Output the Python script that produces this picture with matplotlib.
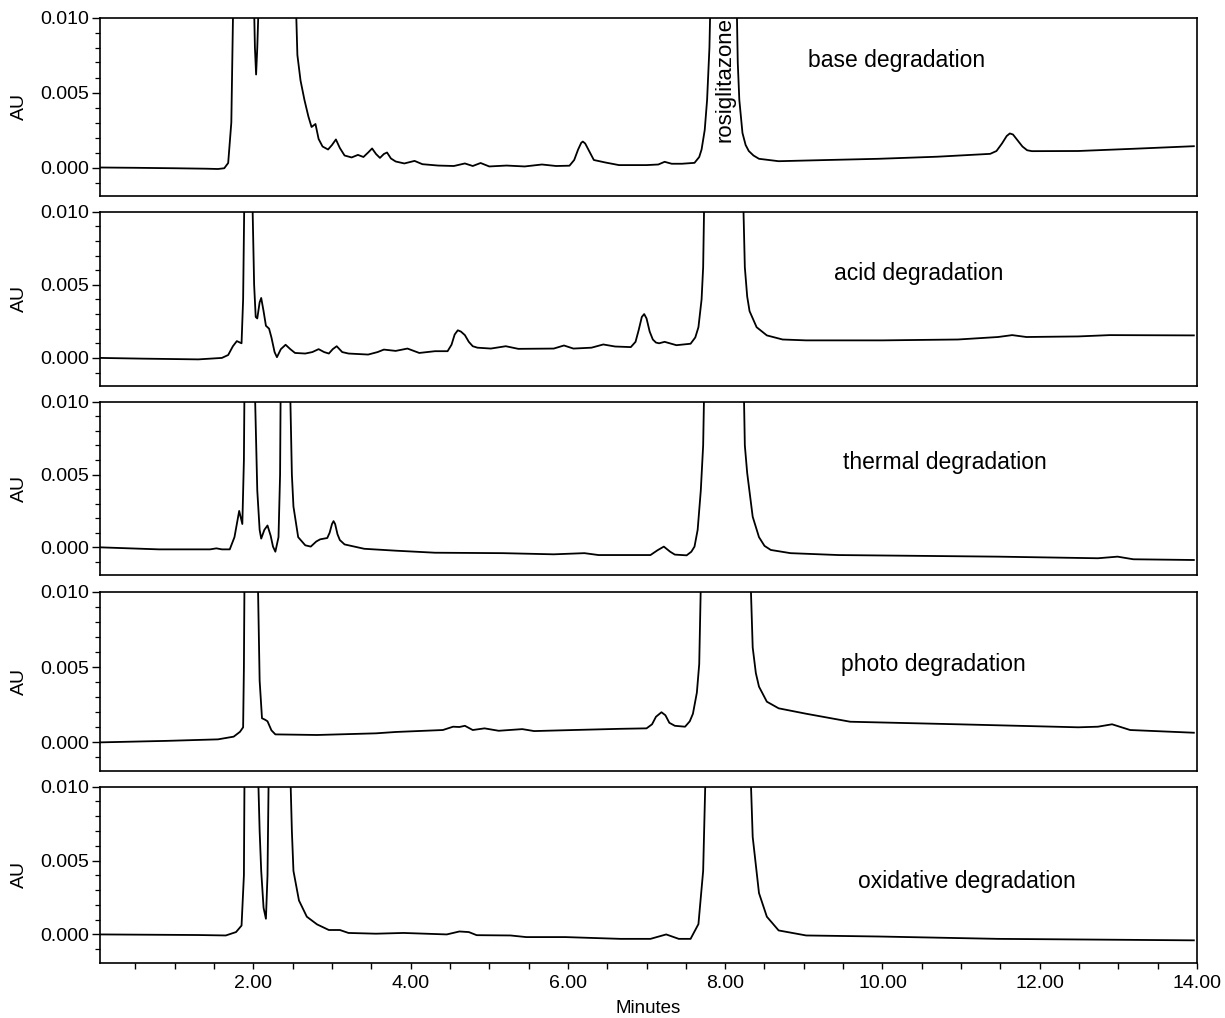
import matplotlib
matplotlib.use("Agg")
import matplotlib.pyplot as plt
from matplotlib.ticker import MultipleLocator, FormatStrFormatter

plt.rcParams['font.family'] = ['Liberation Sans', 'DejaVu Sans']

OFF = 0.013  # off-scale (peak exceeds the plotted range)

# ---------------- data (time in minutes, response in AU) ----------------
base_t = [0.05, 0.5, 1.0, 1.4, 1.55, 1.63, 1.68, 1.72, 1.75, 2.00, 2.02, 2.035, 2.05, 2.08,
          2.53, 2.56, 2.60, 2.65, 2.70, 2.74, 2.79, 2.83, 2.88, 2.95, 3.00, 3.05, 3.10, 3.16,
          3.25, 3.33, 3.40, 3.46, 3.51, 3.56, 3.61, 3.66, 3.70, 3.75, 3.81, 3.92, 4.05, 4.15,
          4.35, 4.55, 4.69, 4.79, 4.89, 5.00, 5.22, 5.45, 5.67, 5.85, 6.02, 6.08, 6.13, 6.17,
          6.19, 6.22, 6.27, 6.33, 6.48, 6.65, 7.0, 7.15, 7.23, 7.32, 7.45, 7.61, 7.67, 7.70,
          7.74, 7.77, 7.80, 7.82, 8.14, 8.16, 8.18, 8.22, 8.26, 8.30, 8.36, 8.43, 8.68, 9.30,
          9.95, 10.7, 11.37, 11.45, 11.52, 11.58, 11.62, 11.66, 11.72, 11.78, 11.84, 11.90,
          12.49, 13.2, 13.96]
base_au = [0.0, -0.00002, -0.00005, -0.00008, -0.0001, -0.00005, 0.0003, 0.003, OFF, OFF, 0.008, 0.0062, 0.008, OFF,
           OFF, 0.0075, 0.0058, 0.0045, 0.0034, 0.0027, 0.0029, 0.0019, 0.0014, 0.0012, 0.0015, 0.00187, 0.0013, 0.0008,
           0.00067, 0.00084, 0.0007, 0.001, 0.00127, 0.0009, 0.00064, 0.0009, 0.001, 0.0006, 0.0004, 0.00027, 0.00044, 0.00022,
           0.00013, 0.0001, 0.00027, 0.0001, 0.0003, 0.00007, 0.00013, 0.00007, 0.0002, 0.0001, 0.00012, 0.0005, 0.0012, 0.00165,
           0.00173, 0.0016, 0.0011, 0.0005, 0.00033, 0.00016, 0.00016, 0.0002, 0.00038, 0.00025, 0.00025, 0.00031, 0.0007, 0.0012,
           0.0025, 0.0045, 0.008, OFF, OFF, 0.007, 0.0045, 0.0023, 0.0015, 0.0011, 0.0008, 0.00058, 0.00042, 0.0005,
           0.00058, 0.00072, 0.00091, 0.0011, 0.0016, 0.0021, 0.00227, 0.0022, 0.0018, 0.0014, 0.00115, 0.00109,
           0.0011, 0.00125, 0.00142]

acid_t = [0.05, 0.6, 1.30, 1.60, 1.68, 1.74, 1.79, 1.85, 1.87, 1.89, 1.98, 2.01, 2.03, 2.05, 2.08,
          2.10, 2.13, 2.16, 2.20, 2.23, 2.27, 2.30, 2.35, 2.41, 2.47, 2.53, 2.66, 2.75, 2.83, 2.90,
          2.96, 3.01, 3.06, 3.13, 3.21, 3.46, 3.58, 3.66, 3.81, 3.96, 4.11, 4.31, 4.47, 4.52, 4.56,
          4.60, 4.64, 4.69, 4.74, 4.79, 4.85, 5.02, 5.21, 5.37, 5.82, 5.95, 6.07, 6.30, 6.45, 6.60,
          6.80, 6.86, 6.90, 6.94, 6.97, 7.00, 7.04, 7.08, 7.12, 7.16, 7.23, 7.38, 7.56, 7.62, 7.66,
          7.70, 7.72, 7.74, 8.22, 8.25, 8.28, 8.31, 8.40, 8.53, 8.73, 9.03, 10.0, 10.96, 11.47,
          11.65, 11.83, 12.49, 12.89, 13.96]
acid_au = [0.0, -0.00005, -0.0001, 0.0, 0.0002, 0.0008, 0.00115, 0.001, 0.004, OFF, OFF, 0.005, 0.0028, 0.0027, 0.0038,
           0.0041, 0.0032, 0.0022, 0.002, 0.0014, 0.0004, 0.00005, 0.0006, 0.0009, 0.0006, 0.00034, 0.0003, 0.0004, 0.0006, 0.0004,
           0.0003, 0.0006, 0.0008, 0.0004, 0.0003, 0.00023, 0.0004, 0.00057, 0.00048, 0.00064, 0.00034, 0.00046, 0.00046, 0.0009, 0.0016,
           0.00189, 0.0018, 0.00156, 0.0011, 0.0008, 0.0007, 0.00064, 0.0008, 0.00062, 0.00064, 0.00085, 0.00064, 0.0007, 0.00092, 0.00078,
           0.00074, 0.0011, 0.0019, 0.0028, 0.003, 0.0027, 0.0018, 0.00126, 0.00105, 0.001, 0.0011, 0.00087, 0.00097, 0.0014, 0.0021,
           0.004, 0.0062, OFF, OFF, 0.0062, 0.0042, 0.0032, 0.0021, 0.00154, 0.00126, 0.0012, 0.0012, 0.00126, 0.00143,
           0.00156, 0.00143, 0.00147, 0.00156, 0.00154]

thermal_t = [0.05, 0.80, 1.45, 1.53, 1.60, 1.70, 1.76, 1.82, 1.86, 1.88, 1.89, 2.01, 2.05, 2.08, 2.10,
             2.14, 2.18, 2.22, 2.25, 2.28, 2.32, 2.34, 2.35, 2.46, 2.49, 2.51, 2.57, 2.66, 2.73, 2.80,
             2.85, 2.94, 2.97, 3.00, 3.02, 3.04, 3.07, 3.10, 3.16, 3.41, 3.81, 4.31, 5.17, 5.82, 6.21,
             6.39, 7.05, 7.14, 7.22, 7.30, 7.36, 7.51, 7.57, 7.61, 7.65, 7.69, 7.72, 7.74, 8.23, 8.25,
             8.28, 8.35, 8.43, 8.50, 8.58, 8.83, 9.44, 11.47, 12.74, 12.99, 13.19, 13.96]
thermal_au = [0.0, -0.00014, -0.00014, -0.00007, -0.00014, -0.00014, 0.0007, 0.0025, 0.0016, 0.006, OFF, OFF, 0.0039, 0.0012, 0.0006,
              0.0012, 0.0015, 0.0008, 0.00005, -0.0003, 0.0007, 0.005, OFF, OFF, 0.005, 0.0028, 0.0007, 0.00014, 0.00005, 0.0004,
              0.00055, 0.00064, 0.001, 0.0016, 0.0018, 0.0016, 0.0009, 0.0005, 0.0002, -0.0001, -0.00023, -0.00037, -0.0004, -0.00048, -0.0004,
              -0.00053, -0.00053, -0.0002, 0.00005, -0.0003, -0.0005, -0.00055, -0.0003, 0.00005, 0.0012, 0.0039, 0.007, OFF, OFF, 0.007,
              0.0051, 0.0021, 0.0007, 0.0001, -0.00018, -0.0004, -0.00053, -0.00064, -0.00075, -0.00064, -0.00082, -0.00087]

photo_t = [0.05, 0.9, 1.55, 1.75, 1.83, 1.87, 1.88, 1.89, 2.05, 2.08, 2.11, 2.15, 2.18, 2.23, 2.28,
           2.81, 3.56, 3.81, 4.41, 4.54, 4.62, 4.69, 4.79, 4.94, 5.12, 5.42, 5.57, 6.07, 6.67, 7.0,
           7.07, 7.12, 7.19, 7.24, 7.29, 7.36, 7.49, 7.55, 7.59, 7.64, 7.67, 7.70, 8.31, 8.35, 8.39,
           8.43, 8.53, 8.68, 9.03, 9.59, 10.96, 12.49, 12.74, 12.92, 13.15, 13.96]
photo_au = [0.0, 0.0001, 0.0002, 0.00038, 0.0007, 0.001, 0.005, OFF, OFF, 0.0041, 0.0016, 0.0015, 0.0014, 0.0008, 0.00053,
            0.00049, 0.0006, 0.00069, 0.00082, 0.00104, 0.00102, 0.0011, 0.00082, 0.00093, 0.00077, 0.00088, 0.00075, 0.00082, 0.0009, 0.00093,
            0.0012, 0.0017, 0.002, 0.0018, 0.0013, 0.0011, 0.00104, 0.0014, 0.0019, 0.0033, 0.0052, OFF, OFF, 0.0063, 0.0046,
            0.0037, 0.0027, 0.00226, 0.0019, 0.00137, 0.0012, 0.001, 0.00104, 0.0012, 0.00082, 0.00064]

oxid_t = [0.05, 1.30, 1.65, 1.78, 1.85, 1.88, 1.89, 2.05, 2.08, 2.10, 2.13, 2.16, 2.18, 2.20, 2.46,
          2.49, 2.51, 2.58, 2.68, 2.81, 2.96, 3.05, 3.10, 3.21, 3.56, 3.91, 4.46, 4.62, 4.74, 4.84,
          5.27, 5.47, 5.97, 6.67, 7.05, 7.25, 7.41, 7.56, 7.66, 7.72, 7.76, 8.31, 8.35, 8.43, 8.53,
          8.68, 9.03, 9.95, 11.47, 13.96]
oxid_au = [0.0, -0.00004, -0.00007, 0.00016, 0.0006, 0.004, OFF, OFF, 0.007, 0.0043, 0.0018, 0.00106, 0.004, OFF, OFF,
           0.007, 0.0043, 0.0023, 0.0012, 0.00068, 0.0003, 0.0003, 0.0003, 0.0001, 0.00005, 0.0001, 0.0, 0.0002, 0.00016, -0.00005,
           -0.00007, -0.00018, -0.00018, -0.0003, -0.0003, 0.0, -0.0003, -0.0003, 0.0007, 0.0043, OFF, OFF, 0.0066, 0.0028, 0.0012,
           0.00027, -0.00007, -0.00014, -0.0003, -0.0004]

panel_labels = ["base degradation", "acid degradation", "thermal degradation",
                "photo degradation", "oxidative degradation"]
series = [(base_t, base_au), (acid_t, acid_au), (thermal_t, thermal_au),
          (photo_t, photo_au), (oxid_t, oxid_au)]
peak_name = "rosiglitazone"

# ---------------- layout ----------------
W, H = 1225, 1018
fig = plt.figure(figsize=(W / 100, H / 100), dpi=100)
left_px, right_px = 100, 1197
panel_px = [(17.5, 196), (211.7, 385.7), (401.7, 575), (591.7, 771), (786.7, 962.5)]
label_pos = [(10.18, 0.0071), (10.46, 0.0058), (10.80, 0.0058), (10.65, 0.0052), (11.07, 0.0036)]

axes = []
for i, ((top, bot), (t, au)) in enumerate(zip(panel_px, series)):
    ax = fig.add_axes([left_px / W, 1 - bot / H, (right_px - left_px) / W, (bot - top) / H])
    ax.plot(t, au, color='black', lw=1.3, solid_joinstyle='round')
    ax.set_xlim(0.05, 14.0)
    ax.set_ylim(-0.0019, 0.010)
    ax.yaxis.set_major_locator(MultipleLocator(0.005))
    ax.yaxis.set_minor_locator(MultipleLocator(0.001))
    ax.yaxis.set_major_formatter(FormatStrFormatter('%.3f'))
    ax.tick_params(axis='y', which='major', direction='out', length=6, width=1.0, labelsize=14, pad=2)
    ax.tick_params(axis='y', which='minor', direction='out', length=3.5, width=0.9)
    ax.set_ylabel("AU", fontsize=14)
    ax.yaxis.set_label_coords(-0.066, 0.5)
    for sp in ax.spines.values():
        sp.set_linewidth(1.2)
    ax.text(label_pos[i][0], label_pos[i][1], panel_labels[i], fontsize=16.5,
            ha='center', va='center')
    if i < 4:
        ax.tick_params(axis='x', which='both', bottom=False, labelbottom=False)
    else:
        ax.xaxis.set_major_locator(MultipleLocator(2.0))
        ax.xaxis.set_minor_locator(MultipleLocator(0.5))
        ax.xaxis.set_major_formatter(FormatStrFormatter('%.2f'))
        ax.tick_params(axis='x', which='both', direction='out', length=4, width=1.0,
                       labelsize=14, pad=5)
        ax.set_xlabel("Minutes", fontsize=13.5, labelpad=6)
    axes.append(ax)

axes[0].text(8.0, 0.0100, peak_name, rotation=90, fontsize=16, ha='center', va='top')

fig.savefig("out.png", dpi=100)
